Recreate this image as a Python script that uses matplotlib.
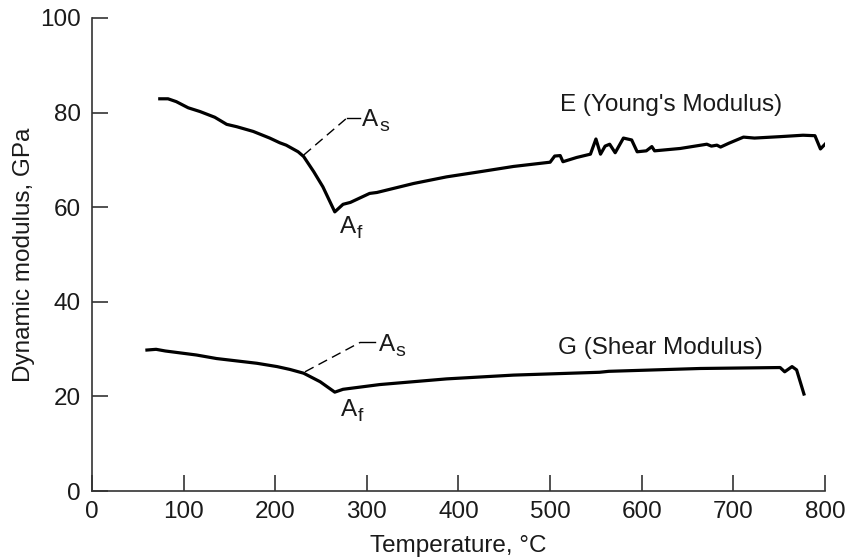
import matplotlib
matplotlib.use("Agg")
import matplotlib.pyplot as plt

plt.rcParams['font.family'] = ['Liberation Sans', 'DejaVu Sans']
plt.rcParams['mathtext.fontset'] = 'custom'
plt.rcParams['mathtext.rm'] = 'Liberation Sans'
plt.rcParams['mathtext.it'] = 'Liberation Sans'

# Young's modulus E (GPa) vs temperature (°C)
e_temp = [74, 83, 92, 105, 118, 134, 147, 158, 176, 194, 205, 212, 225, 231, 242, 252, 265,
          274, 282, 303, 311, 351, 387, 424, 460, 500, 505, 511, 514, 529, 544, 550, 555,
          560, 565, 571, 580, 589, 595, 605, 611, 614, 642, 671, 676, 682, 686, 695, 711,
          723, 751, 776, 789, 795, 802]
e_val = [82.9, 82.9, 82.3, 81.0, 80.2, 79.0, 77.5, 77.0, 76.0, 74.6, 73.6, 73.1, 71.7, 70.7,
         67.5, 64.3, 59.0, 60.6, 61.0, 62.9, 63.1, 65.0, 66.4, 67.5, 68.6, 69.5, 70.8, 70.9,
         69.6, 70.5, 71.2, 74.4, 71.2, 72.9, 73.3, 71.5, 74.6, 74.2, 71.7, 71.9, 72.8, 71.9,
         72.4, 73.3, 72.9, 73.1, 72.7, 73.5, 74.8, 74.6, 74.9, 75.2, 75.1, 72.3, 73.7]

# Shear modulus G (GPa) vs temperature (°C)
g_temp = [60, 70, 80, 100, 114, 136, 158, 180, 202, 216, 231, 249, 265, 274, 314, 387, 460,
          554, 564, 664, 751, 756, 764, 769, 777]
g_val = [29.8, 29.95, 29.6, 29.1, 28.75, 28.0, 27.5, 27.0, 26.3, 25.7, 24.9, 23.1, 20.9, 21.5,
         22.5, 23.7, 24.5, 25.1, 25.3, 25.9, 26.1, 25.2, 26.3, 25.6, 20.5]

x_ticks = [0, 100, 200, 300, 400, 500, 600, 700, 800]
y_ticks = [0, 20, 40, 60, 80, 100]

fig = plt.figure(figsize=(8.46, 5.59), dpi=100)
ax = fig.add_axes([0.1087, 0.1216, 0.8665, 0.8464])

ax.plot(e_temp, e_val, color='black', lw=2.3, solid_joinstyle='round')
ax.plot(g_temp, g_val, color='black', lw=2.3, solid_joinstyle='round')

# Annotation leader lines (A_s)
ax.plot([231, 278], [71.0, 78.8], color='black', lw=1.0, dashes=(7, 4))
ax.plot([278, 293], [78.8, 78.8], color='black', lw=1.0)
ax.plot([232.5, 292.5], [25.2, 31.4], color='black', lw=1.0, dashes=(7, 4))
ax.plot([292.5, 309], [31.4, 31.4], color='black', lw=1.0)

fs = 17.5
txtc = '#1a1a1a'


def sub_label(x, y, main, sub, ha='left'):
    t = ax.text(x, y, main, fontsize=fs, va='center', ha=ha, color=txtc)
    ax.annotate(sub, xy=(1, 0), xycoords=t, xytext=(0.5, -3), textcoords='offset points',
                fontsize=fs * 0.8, va='bottom', ha='left', color=txtc)


sub_label(295, 78.5, 'A', 's')
sub_label(279, 55.8, 'A', 'f', ha='center')
sub_label(313, 30.9, 'A', 's')
sub_label(280, 17.2, 'A', 'f', ha='center')
ax.text(511, 81.6, "E (Young's Modulus)", fontsize=fs, va='center', ha='left', color=txtc)
ax.text(509, 30.2, "G (Shear Modulus)", fontsize=fs, va='center', ha='left', color=txtc)

ax.set_xlim(0, 800)
ax.set_ylim(0, 100)
ax.set_xticks(x_ticks)
ax.set_yticks(y_ticks)
for s in ['top', 'right']:
    ax.spines[s].set_visible(False)
for s in ['left', 'bottom']:
    ax.spines[s].set_color('#333333')
    ax.spines[s].set_linewidth(1.2)
ax.tick_params(direction='in', length=11.5, width=1.2, color='#333333',
               labelsize=fs, labelcolor=txtc)
ax.tick_params(axis='x', pad=7)
ax.tick_params(axis='y', pad=8)
ax.set_xlabel('Temperature, °C', fontsize=fs, color=txtc, labelpad=9)
ax.set_ylabel('Dynamic modulus, GPa', fontsize=fs, color=txtc, labelpad=4)

fig.savefig('out.png', dpi=100)
